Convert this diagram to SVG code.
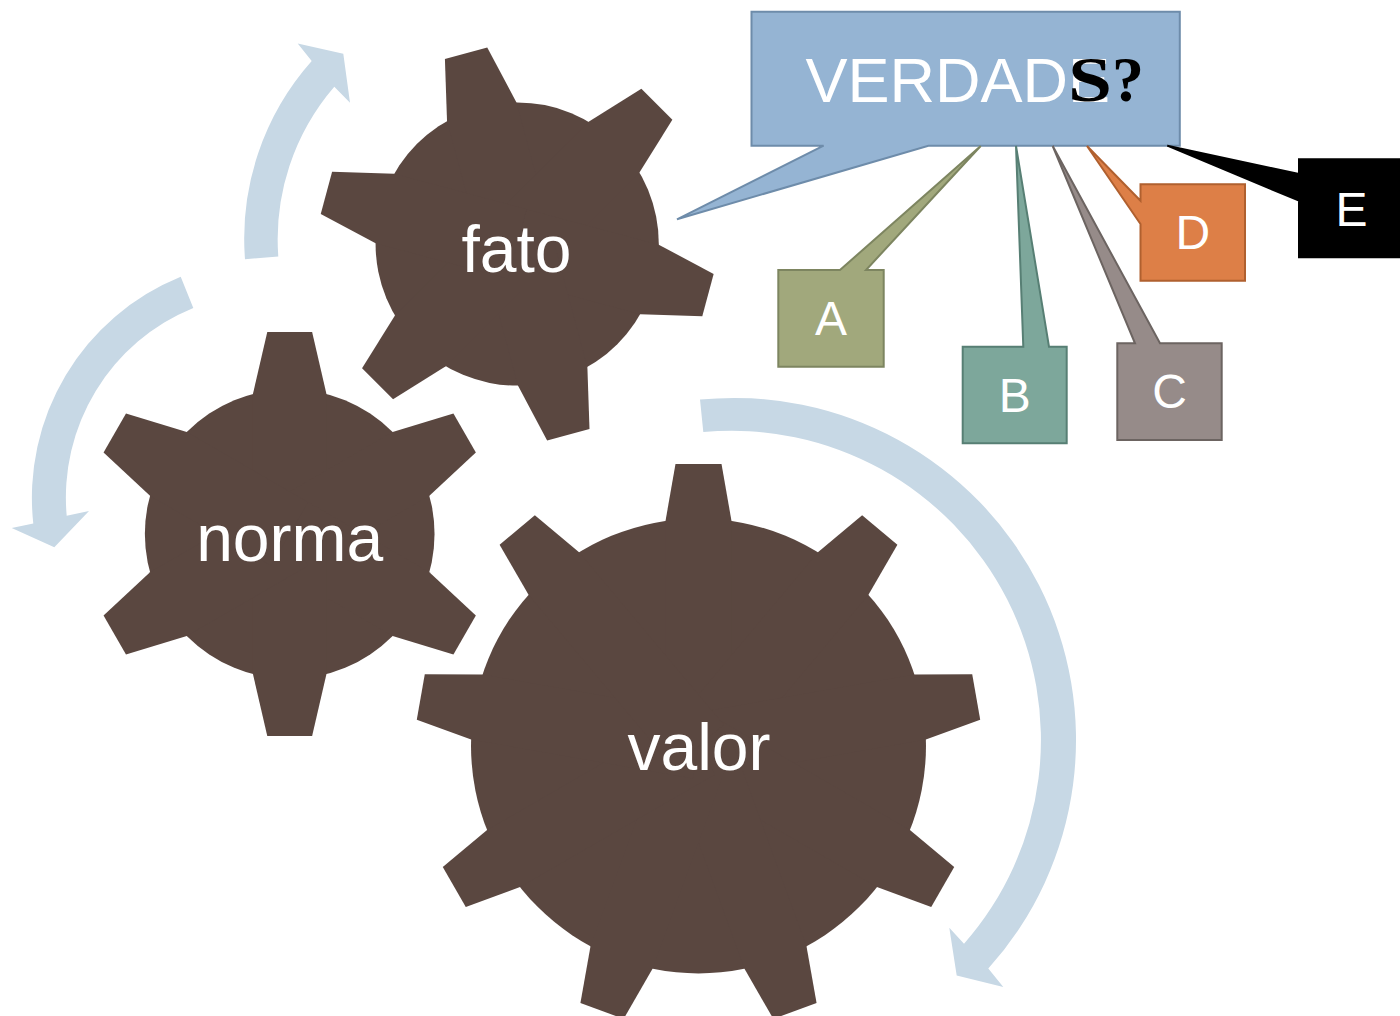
<svg xmlns="http://www.w3.org/2000/svg" width="1400" height="1016" viewBox="0 0 1400 1016">
<style>
.gear{fill:#5A4740}
.glabel{font-family:"Liberation Sans",Arial,sans-serif;font-size:66px;fill:#FFFFFF;text-anchor:middle}
.arrow{fill:#C7D8E5}
.clabel{font-family:"Liberation Sans",Arial,sans-serif;font-size:48px;fill:#FFFFFF;text-anchor:middle}
.box{stroke-width:2;stroke-linejoin:miter}
.sq{font-family:"Liberation Serif","Times New Roman",serif;font-size:64px;font-weight:bold;fill:#000000}
</style>
<defs>
<polygon id="t6" points="0,-0.182 0.6935,-0.182 1,-0.111 1,0.111 0.6935,0.182 0,0.182"/>
<polygon id="t9" points="0,-0.117 0.7982,-0.117 1,-0.0816 1,0.0816 0.7982,0.117 0,0.117"/>
</defs>
<rect width="1400" height="1016" fill="#FFFFFF"/>
<g id="connectors" class="arrow">
<path id="arrow-fato" d="M245,259.2 A267,267 0 0 1 311.7,61.1 L297.7,43.5 L343.3,53.7 L350,102.7 L334.3,86.8 A233.7,233.7 0 0 0 278.3,256.5 Z"/>
<path id="arrow-norma" d="M180.7,276.8 A238.3,238.3 0 0 0 33.3,523.6 L11.7,528 L54.3,547.2 L89,511 L66.7,515.8 A204.7,204.7 0 0 1 193.3,307.9 Z"/>
<path id="arrow-valor" d="M700,399.6 A342,342 0 0 1 988.3,968.6 L1003.3,987 L956.7,975.5 L949.3,927.7 L964,943.8 A309,309 0 0 0 703.3,432.1 Z"/>
</g>
<g id="gear-fato">
<g class="gear" transform="translate(517.2,244) scale(197.5)">
<circle r="0.717"/>
<use href="#t6" transform="rotate(-105)"/>
<use href="#t6" transform="rotate(-45)"/>
<use href="#t6" transform="rotate(15)"/>
<use href="#t6" transform="rotate(75)"/>
<use href="#t6" transform="rotate(135)"/>
<use href="#t6" transform="rotate(195)"/>
</g>
<text class="glabel" x="516.5" y="271.5">fato</text>
</g>
<g id="gear-norma">
<g class="gear" transform="translate(289.7,534) scale(202)">
<circle r="0.717"/>
<use href="#t6" transform="rotate(-90)"/>
<use href="#t6" transform="rotate(-30)"/>
<use href="#t6" transform="rotate(30)"/>
<use href="#t6" transform="rotate(90)"/>
<use href="#t6" transform="rotate(150)"/>
<use href="#t6" transform="rotate(210)"/>
</g>
<text class="glabel" x="289.7" y="561.3">norma</text>
</g>
<g id="gear-valor">
<g class="gear" transform="translate(698.5,746) scale(282)">
<circle r="0.8067"/>
<use href="#t9" transform="rotate(-90)"/>
<use href="#t9" transform="rotate(-50)"/>
<use href="#t9" transform="rotate(-10)"/>
<use href="#t9" transform="rotate(30)"/>
<use href="#t9" transform="rotate(70)"/>
<use href="#t9" transform="rotate(110)"/>
<use href="#t9" transform="rotate(150)"/>
<use href="#t9" transform="rotate(190)"/>
<use href="#t9" transform="rotate(230)"/>
</g>
<text class="glabel" x="699" y="769.5">valor</text>
</g>
<g id="callout-verdade">
<polygon class="box" fill="#95B4D3" stroke="#6E8CAA" points="751.5,11.7 1179.8,11.7 1179.8,145.7 928.4,145.7 677,219.3 823.6,145.7 751.5,145.7"/>
<text x="805.5" y="101.5" font-family="'Liberation Sans',Arial,sans-serif" font-size="63" fill="#FFFFFF">VERDADE</text>
<text class="sq" x="1068" y="101" textLength="44" lengthAdjust="spacingAndGlyphs">S</text>
<text class="sq" x="1112" y="101">?</text>
</g>
<g id="callout-a">
<polygon class="box" fill="#A1A87C" stroke="#7D8560" points="778.3,270 840,270 980.7,146 866,270 883.7,270 883.7,366.7 778.3,366.7"/>
<text class="clabel" x="831" y="335">A</text>
</g>
<g id="callout-b">
<polygon class="box" fill="#7DA79B" stroke="#577F74" points="962.7,346.7 1023.3,346.7 1016,146 1049,346.7 1066.7,346.7 1066.7,443.3 962.7,443.3"/>
<text class="clabel" x="1014.7" y="411.7">B</text>
</g>
<g id="callout-c">
<polygon class="box" fill="#968B89" stroke="#6C6461" points="1117.3,343.3 1135,343.3 1052.7,146 1160,343.3 1221.7,343.3 1221.7,440 1117.3,440"/>
<text class="clabel" x="1169.5" y="408.3">C</text>
</g>
<g id="callout-d">
<polygon class="box" fill="#DD7F47" stroke="#B0602F" points="1140.5,184.2 1245,184.2 1245,280.8 1140.5,280.8 1140.5,224 1087,146 1140.5,200.8"/>
<text class="clabel" x="1192.8" y="249.3">D</text>
</g>
<g id="callout-e">
<polygon class="box" fill="#000000" stroke="#000000" points="1299,159.3 1404,159.3 1404,257.3 1299,257.3 1299,200.7 1167.3,145.7 1299,174"/>
<text class="clabel" x="1351.5" y="225.7">E</text>
</g>
</svg>
